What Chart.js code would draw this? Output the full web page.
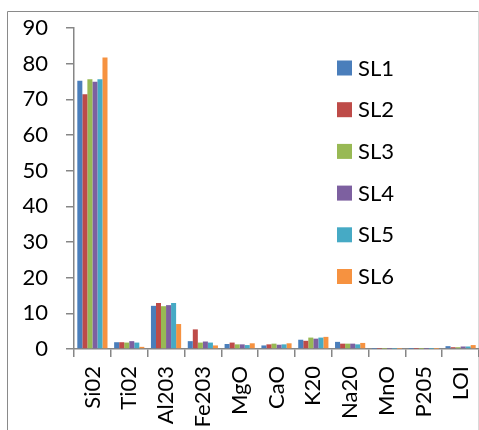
<!DOCTYPE html>
<html>
<head>
<meta charset="utf-8">
<script src="https://cdn.jsdelivr.net/npm/chart.js@4"></script>
<style>
html,body{margin:0;padding:0;background:#fff;}
#wrap{width:479px;height:430px;position:relative;}
</style>
</head>
<body>
<div id="wrap"><canvas id="c" width="479" height="430"></canvas></div>
<script>
const categories = ["Si02","Ti02","Al203","Fe203","MgO","CaO","K20","Na20","MnO","P205","LOI"];
const SL1 = [75.2, 1.9, 12.1, 2.2, 1.4, 1.0, 2.6, 2.0, 0.05, 0.03, 0.8];
const SL2 = [71.4, 1.9, 12.9, 5.5, 1.8, 1.3, 2.3, 1.5, 0.05, 0.03, 0.5];
const SL3 = [75.6, 1.8, 12.0, 1.8, 1.3, 1.5, 3.2, 1.5, 0.05, 0.03, 0.5];
const SL4 = [74.9, 2.2, 12.3, 2.1, 1.3, 1.2, 2.9, 1.5, 0.05, 0.03, 0.7];
const SL5 = [75.6, 1.8, 12.9, 1.8, 1.1, 1.3, 3.2, 1.3, 0.05, 0.03, 0.7];
const SL6 = [81.7, 0.6, 7.0, 1.0, 1.6, 1.6, 3.4, 1.7, 0.05, 0.03, 1.1];
const seriesNames = ["SL1","SL2","SL3","SL4","SL5","SL6"];
const seriesValues = [SL1, SL2, SL3, SL4, SL5, SL6];
const colors = ["#4A7EBB","#BE4B48","#98B954","#7D60A0","#46AAC5","#F69240"];
const yTicks = [0,10,20,30,40,50,60,70,80,90];

const FONT = "Lato";

const framePlugin = {
  id: 'frame',
  beforeDraw(chart) {
    const ctx = chart.ctx;
    ctx.save();
    ctx.fillStyle = '#fff';
    ctx.fillRect(0,0,chart.width,chart.height);
    ctx.strokeStyle = '#8a8a8a';
    ctx.lineWidth = 1;
    ctx.beginPath();
    ctx.moveTo(7.5, 432);
    ctx.lineTo(7.5, 11.5);
    ctx.lineTo(478.5, 11.5);
    ctx.stroke();
    ctx.strokeStyle = '#d9d9d9';
    ctx.beginPath();
    ctx.moveTo(478.5, 11.5);
    ctx.lineTo(478.5, 432);
    ctx.stroke();
    ctx.restore();
  }
};

const legendPlugin = {
  id: 'customLegend',
  afterDraw(chart) {
    const ctx = chart.ctx;
    const x0 = 337;
    const y0 = 67.5;
    const step = 41.7;
    ctx.save();
    ctx.font = "22px " + FONT;
    ctx.textBaseline = 'middle';
    ctx.textAlign = 'left';
    chart.data.datasets.forEach((ds, i) => {
      const cy = y0 + i * step;
      ctx.fillStyle = ds.backgroundColor;
      ctx.fillRect(x0, cy - 7, 15, 15);
      ctx.fillStyle = '#000';
      ctx.fillText(ds.label, x0 + 21, cy + 1);
    });
    ctx.restore();
  }
};

new Chart(document.getElementById('c'), {
  type: 'bar',
  data: {
    labels: categories,
    datasets: seriesNames.map((n, i) => ({
      label: n,
      data: seriesValues[i],
      backgroundColor: colors[i],
      borderWidth: 0,
      barPercentage: 1.0,
      categoryPercentage: 0.82
    }))
  },
  options: {
    responsive: false,
    animation: false,
    devicePixelRatio: 1,
    layout: { padding: { top: 28, right: 0, left: 0, bottom: 0 } },
    plugins: {
      legend: { display: false },
      tooltip: { enabled: false }
    },
    scales: {
      x: {
        offset: true,
        grid: {
          display: true,
          drawOnChartArea: false,
          drawTicks: true,
          tickLength: 8,
          color: '#868686',
          lineWidth: 1.5,
          offset: true
        },
        border: { display: true, color: '#868686', width: 1.5 },
        ticks: {
          autoSkip: false,
          minRotation: 90,
          maxRotation: 90,
          padding: 9,
          color: '#000',
          font: { family: FONT, size: 22 }
        },
        afterFit(scale) { scale.height = 81; scale.paddingRight = 0; scale.paddingLeft = 0; scale.paddingTop = 0; scale.paddingBottom = 0; }
      },
      y: {
        min: 0,
        max: 90,
        afterBuildTicks(scale) { scale.ticks = yTicks.map(v => ({ value: v })); },
        grid: {
          display: true,
          drawOnChartArea: false,
          drawTicks: true,
          tickLength: 8,
          color: '#868686',
          lineWidth: 1.5
        },
        border: { display: true, color: '#868686', width: 1.5 },
        ticks: {
          padding: 18,
          color: '#000',
          font: { family: FONT, size: 22 }
        },
        afterFit(scale) { scale.width = 74; scale.paddingTop = 0; scale.paddingBottom = 0; }
      }
    }
  },
  plugins: [framePlugin, legendPlugin]
});
</script>
</body>
</html>
